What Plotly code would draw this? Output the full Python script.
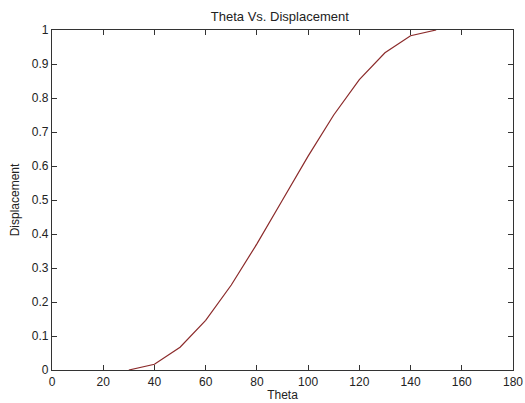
import plotly.graph_objects as go

# Cam follower rise: follower displacement against cam angle theta (degrees)
theta = [30, 40, 50, 60, 70, 80, 90, 100, 110, 120, 130, 140, 150]
displacement = [0.0, 0.017, 0.067, 0.146, 0.25, 0.371, 0.5, 0.629, 0.75, 0.854, 0.933, 0.983, 1.0]

x_ticks = list(range(0, 181, 20))
y_ticks = [round(i * 0.1, 1) for i in range(11)]

FONT = "Liberation Sans, Arial, sans-serif"

fig = go.Figure()
fig.add_trace(go.Scatter(
    x=theta, y=displacement, mode="lines",
    line=dict(color="#8b2a2a", width=1.2),
    showlegend=False,
))

axis_common = dict(
    showline=True, linecolor="#333333", linewidth=1.2, mirror="ticks",
    ticks="inside", ticklen=5, tickwidth=1, tickcolor="#333333",
    showgrid=False, zeroline=False, automargin=False,
    tickfont=dict(family=FONT, size=12, color="#222222"),
)

fig.update_layout(
    width=525, height=403,
    margin=dict(l=52, r=12, t=30, b=33),
    paper_bgcolor="white", plot_bgcolor="white",
    title=dict(text="Theta Vs. Displacement", x=0.533, xanchor="center", y=0.97, yanchor="top",
               font=dict(family=FONT, size=13, color="#222222")),
    xaxis=dict(range=[0, 180], tickvals=x_ticks,
               title=dict(text="Theta", standoff=0,
                          font=dict(family=FONT, size=12, color="#222222")),
               **axis_common),
    yaxis=dict(range=[0, 1], tickvals=y_ticks, ticktext=[("%g" % v) for v in y_ticks],
               title=dict(text="Displacement", standoff=9,
                          font=dict(family=FONT, size=12, color="#222222")),
               **axis_common),
)

fig.write_html("out.html")
